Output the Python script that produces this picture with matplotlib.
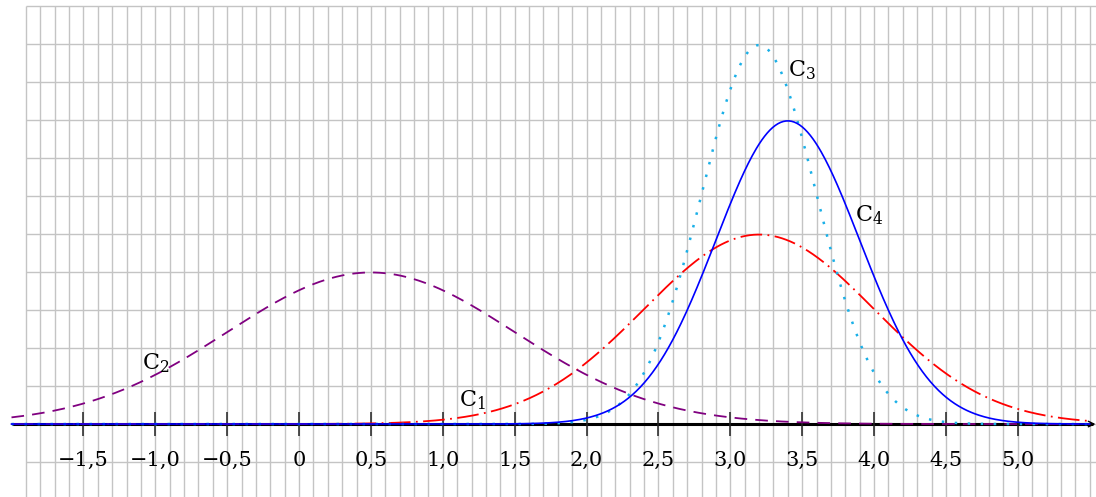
import numpy as np
import matplotlib
matplotlib.use("Agg")
from matplotlib import pyplot as plt

# curves: normal densities (mean, sigma)
names = ["C$_1$", "C$_2$", "C$_3$", "C$_4$"]
means = [3.2, 0.5, 3.2, 3.4]
sigmas = [0.8, 1.0, 0.4, 0.5]
colors = ["#ff0000", "#800080", "#1ab0e8", "#0000ff"]
styles = [(0, (12, 3, 1, 3)), (0, (7, 4.5)), (0, (1, 4.2)), "-"]
widths = [1.3, 1.3, 1.8, 1.2]
label_pos = [(1.11, 0.047), (-1.09, 0.144), (3.40, 0.914), (3.87, 0.534)]

tick_values = [-1.5, -1.0, -0.5, 0, 0.5, 1.0, 1.5, 2.0, 2.5, 3.0, 3.5, 4.0,
               4.5, 5.0]


def fmt(v):
    if v == 0:
        return "0"
    s = f"{abs(v):.1f}".replace(".", ",")
    return ("\u2212" + s) if v < 0 else s


def main():
    plt.rcParams["font.family"] = "DejaVu Serif"
    plt.rcParams["mathtext.fontset"] = "dejavuserif"

    fig = plt.figure(figsize=(10.96, 4.97), dpi=100)
    ax = fig.add_axes([0, 0, 1, 1])
    ax.set_xlim(-2.08, 5.544)
    ax.set_ylim(-0.192, 1.116)

    # grid
    gx = np.arange(-19, 56) / 10
    gy = np.arange(-1, 12) / 10
    ax.vlines(gx, -0.2, 1.1, color="#c4c4c4", lw=1.0, zorder=0)
    ax.hlines(gy, -1.9, 5.6, color="#c4c4c4", lw=1.0, zorder=0)

    # x axis with a thin arrow head, below the curves
    ax.plot([-2.0, 5.52], [0, 0], color="black", lw=2.2, zorder=2,
            solid_capstyle="butt")
    ax.annotate("", xy=(5.54, 0), xytext=(5.4, 0),
                arrowprops=dict(arrowstyle="->", lw=1.0, color="black",
                                shrinkA=0, shrinkB=0,
                                mutation_scale=10),
                zorder=2, annotation_clip=False)
    ax.vlines(tick_values, -0.032, 0.032, color="#222222", lw=1.1,
              zorder=2)

    x = np.linspace(-2.0, 5.5, 800)
    for m, s, c, ls, lw in zip(means, sigmas, colors, styles, widths):
        y = np.exp(-0.5 * ((x - m) / s) ** 2) / (s * np.sqrt(2 * np.pi))
        ax.plot(x, y, color=c, ls=ls, lw=lw, zorder=3)

    for name, (tx, ty) in zip(names, label_pos):
        ax.text(tx, ty, name, fontsize=16, ha="left", va="baseline",
                zorder=5)

    for v in tick_values:
        ax.text(v, -0.097, fmt(v), fontsize=15, ha="center",
                va="center", zorder=5)

    ax.axis("off")
    fig.savefig("out.png", dpi=100)
    plt.close(fig)


if __name__ == "__main__":
    main()
